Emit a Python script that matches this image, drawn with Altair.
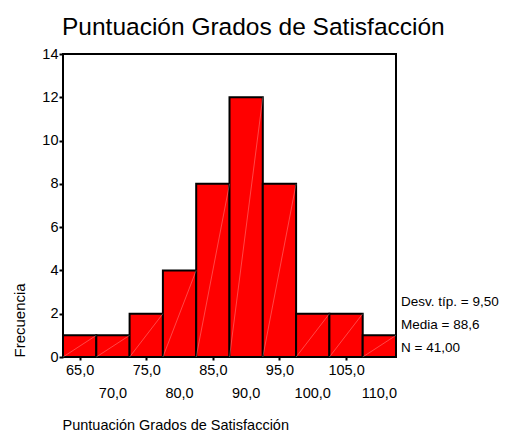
import altair as alt
import pandas as pd

centers = [65, 70, 75, 80, 85, 90, 95, 100, 105, 110]
counts = [1, 1, 2, 4, 8, 12, 8, 2, 2, 1]
bin_width = 5
y_ticks = [0, 2, 4, 6, 8, 10, 12, 14]
stats = ["Desv. típ. = 9,50", "Media = 88,6", "N = 41,00"]
title = "Puntuación Grados de Satisfacción"
x_title = "Puntuación Grados de Satisfacción"
y_title = "Frecuencia"

FONT = "Liberation Sans"
W, H = 333, 303

df = pd.DataFrame({"center": centers, "count": counts})

fmt = "replace(format(datum.value, '.1f'), '.', ',')"
label_expr = f"datum.value % 10 == 0 ? '' : {fmt}"

x_scale = alt.Scale(domain=[centers[0] - bin_width / 2, centers[-1] + bin_width / 2], nice=False, zero=False)
y_scale = alt.Scale(domain=[0, 14], nice=False)

base = alt.Chart(df).transform_calculate(
    start=f"datum.center - {bin_width}/2",
    end=f"datum.center + {bin_width}/2",
    zero="0",
)

bars = base.mark_bar(color="#ff0000", stroke="black", strokeWidth=2).encode(
    x=alt.X("start:Q", scale=x_scale,
            axis=alt.Axis(values=centers, labelExpr=label_expr, title=x_title, grid=False, domain=False,
                          tickSize=3, tickWidth=2, tickColor="black", labelFlush=False, labelOverlap=False,
                          labelBound=False, labelFontSize=14.5, labelFont=FONT, labelColor="black",
                          labelBaseline="top", labelPadding=3,
                          titleFont=FONT, titleFontSize=14.5, titleFontWeight="normal", titleColor="black",
                          titleAnchor="start", titleAlign="left", titleBaseline="middle",
                          titleX=-1, titleY=68)),
    x2="end:Q",
    y=alt.Y("count:Q", scale=y_scale,
            axis=alt.Axis(values=y_ticks, title=y_title, grid=False, domain=False,
                          tickSize=4, tickWidth=2, tickColor="black", labelFlush=False,
                          labelFontSize=14.5, labelFont=FONT, labelColor="black", labelPadding=1,
                          titleFont=FONT, titleFontSize=15, titleFontWeight="normal", titleColor="black",
                          titleAngle=270, titleAlign="left", titleBaseline="middle",
                          titleX=-44, titleY=H)),
    y2="zero:Q",
)

diag = base.mark_rule(color="white", strokeWidth=0.7, opacity=0.4).encode(
    x=alt.X("start:Q", scale=x_scale), x2="end:Q",
    y=alt.Y("zero:Q", scale=y_scale), y2="count:Q",
)

even_labels = base.transform_filter("datum.center % 10 == 0").transform_calculate(
    lab="replace(format(datum.center, '.1f'), '.', ',')"
).mark_text(font=FONT, fontSize=14.5, color="black", baseline="middle", align="center").encode(
    x=alt.X("center:Q", scale=x_scale),
    y=alt.value(H + 37),
    text="lab:N",
)

layers = [bars, diag, even_labels]
stat_y = [248, 271, 294]
for txt, yy in zip(stats, stat_y):
    layers.append(
        alt.Chart(pd.DataFrame({"t": [txt]})).mark_text(
            align="left", baseline="middle", font=FONT, fontSize=13.5, color="black"
        ).encode(text="t:N", x=alt.value(W + 5), y=alt.value(yy))
    )

chart = alt.layer(*layers).properties(
    width=W, height=H,
    background="white",
    title=alt.TitleParams(title, anchor="start", frame="group", font=FONT, fontSize=24.5,
                          fontWeight="normal", color="black", offset=6, dx=-1),
    autosize=alt.AutoSizeParams(type="none"),
    padding={"left": 55, "top": 46, "right": 104, "bottom": 74},
).configure_view(stroke="black", strokeWidth=2)

chart.save("out.html", embed_options={"renderer": "svg", "actions": False})
